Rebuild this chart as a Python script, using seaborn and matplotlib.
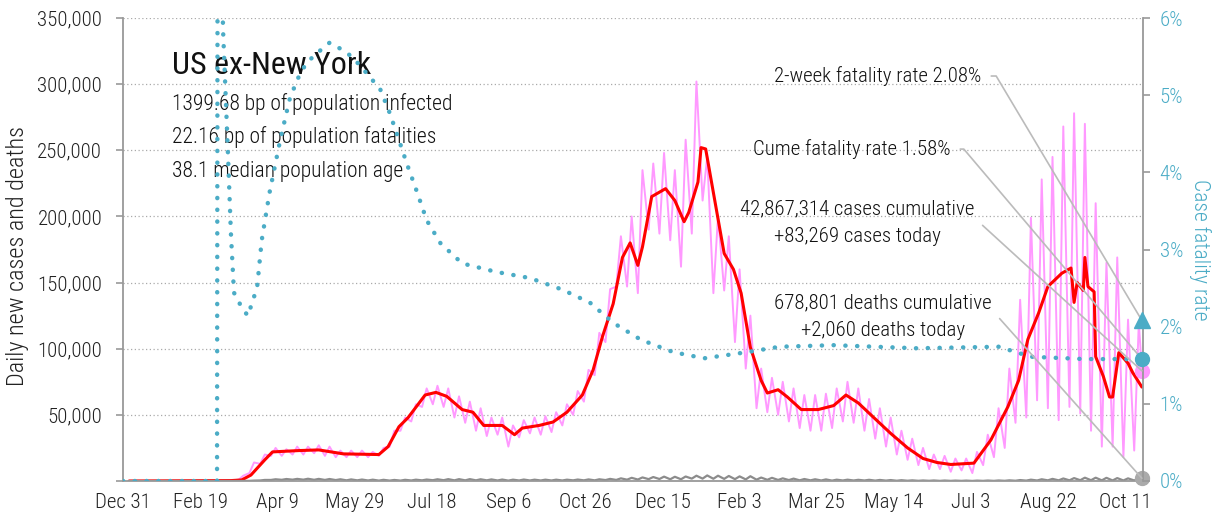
import pandas as pd
import matplotlib
matplotlib.use("Agg")
import matplotlib.pyplot as plt
import matplotlib.ticker as mticker
import seaborn as sns

# 7-day average of new cases (thousands)
avg_dates = ['2020-01-04', '2020-03-10', '2020-03-17', '2020-03-23', '2020-04-01', '2020-04-06',
             '2020-04-23', '2020-05-06', '2020-05-22', '2020-06-14', '2020-06-20', '2020-06-27',
             '2020-07-03', '2020-07-14', '2020-07-21', '2020-07-28', '2020-08-07', '2020-08-14',
             '2020-08-21', '2020-09-02', '2020-09-10', '2020-09-15', '2020-09-26', '2020-10-05',
             '2020-10-14', '2020-10-24', '2020-10-31', '2020-11-06', '2020-11-13', '2020-11-19',
             '2020-11-24', '2020-11-29', '2020-12-02', '2020-12-08', '2020-12-17', '2020-12-23',
             '2020-12-29', '2021-01-01', '2021-01-07', '2021-01-09', '2021-01-12', '2021-01-17',
             '2021-01-24', '2021-01-30', '2021-02-04', '2021-02-10', '2021-02-17', '2021-02-21',
             '2021-02-28', '2021-03-06', '2021-03-15', '2021-03-26', '2021-04-05', '2021-04-13',
             '2021-04-21', '2021-05-01', '2021-05-12', '2021-05-23', '2021-06-02', '2021-06-11',
             '2021-06-20', '2021-07-05', '2021-07-16', '2021-07-27', '2021-08-03', '2021-08-09',
             '2021-08-16', '2021-08-22', '2021-08-31', '2021-09-06', '2021-09-08', '2021-09-10',
             '2021-09-14', '2021-09-15', '2021-09-17', '2021-09-21', '2021-09-22', '2021-09-27',
             '2021-10-01', '2021-10-03', '2021-10-07', '2021-10-13', '2021-10-16', '2021-10-22']
avg_cases = [0, 0.3, 0.8, 4.5, 16, 22,
             23, 23.5, 20.5, 20, 26, 41,
             48, 65, 67, 64, 54, 52,
             42, 42, 35, 40, 42, 44.6,
             52, 65, 84, 109, 134, 169,
             180, 163, 177, 215, 221, 212,
             196, 203, 226, 252, 251, 218,
             172, 160, 142, 101, 76, 66.5,
             69, 63.5, 54, 54, 57, 65,
             59, 48, 36, 25, 17, 14,
             12.5, 13.5, 31, 56, 76, 107,
             127, 147, 157, 161, 135, 150,
             144, 169, 147, 143, 94, 79,
             63.5, 63.5, 97, 89, 82, 71]

# daily new cases (thousands): weekly low (Sunday) and high (Wednesday), from 2020-03-01
case_lo = [0, 0.2, 1, 6, 13,
           19, 19, 20, 20,
           21, 19, 18, 18, 18,
           18, 19, 26, 38,
           45, 56, 58, 56,
           48, 44, 38, 34, 35,
           26, 33, 36, 35,
           37, 42, 50, 60,
           80, 105, 147, 147, 142,
           190, 187, 182, 162,
           187, 212, 142, 144, 105,
           85, 55, 52, 50,
           45, 40, 38, 38,
           40, 45, 44, 38,
           32, 26, 20, 16, 12,
           9, 9, 7, 8,
           6, 12, 18, 25,
           44, 48, 61, 55, 46,
           56, 51, 38, 26,
           26, 18, 23]
case_hi = [0.1, 0.5, 4, 14, 20,
           25, 24, 26, 26,
           27, 26, 23, 23, 23,
           22, 25, 38, 48,
           58, 70, 72, 70,
           64, 60, 55, 48, 48,
           42, 46, 48, 49,
           52, 58, 68, 84,
           112, 145, 185, 200, 235,
           240, 248, 235, 258,
           302, 245, 200, 185, 160,
           125, 85, 78, 75,
           70, 65, 65, 66,
           70, 75, 70, 62,
           55, 48, 38, 32, 25,
           20, 19, 17, 17,
           22, 35, 55, 85,
           137, 199, 228, 245, 268,
           278, 270, 210, 165,
           169, 122, 120]

# daily deaths (thousands): weekly low and high
death_lo = [0, 0, 0.02, 0.1, 0.4,
            0.8, 0.9, 1.0, 1.0,
            0.9, 0.8, 0.7, 0.5, 0.5,
            0.4, 0.3, 0.3, 0.3,
            0.4, 0.5, 0.6, 0.6,
            0.5, 0.5, 0.5, 0.5, 0.4,
            0.3, 0.4, 0.4, 0.4,
            0.4, 0.4, 0.5, 0.5,
            0.5, 0.7, 0.8, 1.0, 1.1,
            1.4, 1.5, 1.3, 1.3,
            1.8, 1.8, 1.7, 1.6, 1.4,
            1.2, 1.0, 0.9, 0.8,
            0.7, 0.5, 0.5, 0.4,
            0.3, 0.4, 0.4, 0.4,
            0.3, 0.3, 0.2, 0.2, 0.15,
            0.15, 0.1, 0.1, 0.1,
            0.05, 0.1, 0.1, 0.15,
            0.2, 0.3, 0.4, 0.5, 0.5,
            0.5, 0.6, 0.6, 0.5,
            0.4, 0.4, 0.4]
death_hi = [0, 0.01, 0.05, 0.3, 0.8,
            1.3, 1.5, 1.6, 1.7,
            1.6, 1.5, 1.3, 1.2, 1.1,
            1.0, 0.9, 0.8, 0.9,
            1.0, 1.1, 1.3, 1.4,
            1.4, 1.4, 1.3, 1.2, 1.1,
            1.0, 1.1, 1.0, 1.0,
            1.0, 1.0, 1.1, 1.2,
            1.3, 1.6, 2.0, 2.4, 2.7,
            3.0, 3.3, 3.2, 3.4,
            4.0, 4.2, 4.0, 3.8, 3.5,
            3.6, 2.6, 2.4, 2.0,
            1.8, 1.5, 1.3, 1.2,
            1.0, 1.0, 0.9, 0.9,
            0.8, 0.7, 0.6, 0.5, 0.4,
            0.4, 0.35, 0.3, 0.3,
            0.3, 0.35, 0.4, 0.5,
            0.7, 1.0, 1.3, 1.6, 1.9,
            2.2, 2.5, 2.5, 2.4,
            2.2, 2.0, 1.9]

# cumulative case fatality rate (%)
cfr_dates = ['2019-12-31', '2020-03-01', '2020-03-02', '2020-03-03', '2020-03-04', '2020-03-05',
             '2020-03-08', '2020-03-10', '2020-03-12', '2020-03-17', '2020-03-21', '2020-03-27',
             '2020-03-30', '2020-04-04', '2020-04-11', '2020-04-17', '2020-04-22', '2020-04-28',
             '2020-05-07', '2020-05-13', '2020-05-22', '2020-05-28', '2020-06-08', '2020-06-15',
             '2020-06-21', '2020-06-27', '2020-07-02', '2020-07-09', '2020-07-15', '2020-07-24',
             '2020-08-07', '2020-08-29', '2020-09-20', '2020-10-11', '2020-10-29', '2020-11-13',
             '2020-12-01', '2020-12-22', '2021-01-11', '2021-02-08', '2021-03-01', '2021-04-05',
             '2021-05-29', '2021-07-21', '2021-08-11', '2021-09-15', '2021-10-22']
cfr_pct = [0, 0, 20, 9, 6.6, 5.8,
           4.29, 3.21, 2.44, 2.25, 2.14, 2.51,
           3.12, 3.73, 4.42, 4.94, 5.2, 5.42,
           5.58, 5.68, 5.58, 5.49, 5.24, 5.07,
           4.77, 4.42, 4.12, 3.73, 3.38, 3.08,
           2.82, 2.71, 2.63, 2.48, 2.31, 2.05,
           1.83, 1.67, 1.59, 1.67, 1.74, 1.76,
           1.72, 1.74, 1.61, 1.58, 1.58]

last_day = '2021-10-22'
cases_today = 83269
deaths_today = 2060
cume_cases = 42867314
cume_deaths = 678801
cfr_cume = 1.58
cfr_2wk = 2.08
title = 'US ex-New York'
stats = ['1399.68 bp of population infected',
         '22.16 bp of population fatalities',
         '38.1 median population age']

PINK, RED, GREY, TEAL, LEAD = '#FF99FF', '#FF0000', '#8C8C8C', '#4BACC6', '#BBBBBB'

# tables for seaborn
weeks = pd.date_range('2020-03-01', periods=len(case_lo), freq='7D')
mid = weeks + pd.Timedelta(days=3)
end = pd.Timestamp(last_day)
daily = pd.DataFrame({
    'date': list(weeks) + list(mid) + [pd.Timestamp('2020-01-04'), end],
    'cases': [v * 1000 for v in case_lo + case_hi] + [0, cases_today],
    'deaths': [v * 1000 for v in death_lo + death_hi] + [0, deaths_today],
}).sort_values('date')
avg = pd.DataFrame({'date': pd.to_datetime(avg_dates), 'cases': [v * 1000 for v in avg_cases]})
cfr = pd.DataFrame({'date': pd.to_datetime(cfr_dates), 'pct': cfr_pct})

sns.set_style('white')
plt.rcParams['font.family'] = ['Roboto Condensed', 'DejaVu Sans']
plt.rcParams['font.weight'] = 'light'

fig = plt.figure(figsize=(12.15, 5.2), dpi=100)
ax = fig.add_axes([123 / 1215, 39 / 520, 1020 / 1215, 463 / 520])
ax2 = ax.twinx()

sns.lineplot(data=daily, x='date', y='cases', ax=ax, color=PINK, lw=1.4, estimator=None)
sns.lineplot(data=avg, x='date', y='cases', ax=ax, color=RED, lw=2.2, estimator=None)
sns.lineplot(data=daily, x='date', y='deaths', ax=ax, color=GREY, lw=1.6, estimator=None)
sns.lineplot(data=cfr, x='date', y='pct', ax=ax2, color=TEAL, lw=3.2, estimator=None,
             linestyle=(0, (0.05, 2.6)), dash_capstyle='round')

# end markers
ax.plot([end], [cases_today], 'o', color=PINK, ms=10, clip_on=False, zorder=5)
ax.plot([end], [deaths_today], 'o', color='#AAAAAA', ms=10, clip_on=False, zorder=5)
ax2.plot([end], [cfr_2wk], '^', color=TEAL, ms=11, clip_on=False, zorder=5)
ax2.plot([end], [cfr_cume], 'o', color=TEAL, ms=10, clip_on=False, zorder=5)

# axes
ax.set_xlim(pd.Timestamp('2019-12-31'), end + pd.Timedelta(hours=17))
ax.set_ylim(0, 350000)
ax2.set_ylim(0, 6)
ticks = pd.date_range('2019-12-31', periods=14, freq='50D')
ax.set_xticks(ticks)
ax.set_xticklabels([f'{t:%b} {t.day}' for t in ticks])
ax.set_yticks(range(0, 350001, 50000))
ax.yaxis.set_major_formatter(mticker.FuncFormatter(lambda v, p: '' if v == 0 else f'{v:,.0f}'))
ax2.set_yticks(range(0, 7))
ax2.yaxis.set_major_formatter(mticker.FuncFormatter(lambda v, p: f'{v:.0f}%'))
ax.set_xlabel('')
ax.set_ylabel('')
ax2.set_ylabel('')
ax.grid(False)
ax2.grid(False)
ax.yaxis.grid(True, linestyle=(0, (1, 2)), color='#AAAAAA', lw=0.9)

for a in (ax, ax2):
    a.spines['top'].set_visible(False)
    for s in ('left', 'right', 'bottom'):
        a.spines[s].set_color('#999999')
        a.spines[s].set_linewidth(1.3)
ax.spines['right'].set_visible(False)
ax2.spines['left'].set_visible(False)
ax2.spines['bottom'].set_visible(False)

ax.tick_params(axis='x', direction='out', length=5, width=1.2, color='#999999',
               labelsize=15, labelcolor='#222222', pad=4)
ax.tick_params(axis='y', direction='out', length=5, width=1.2, color='#999999',
               labelsize=15, labelcolor='#222222', pad=10)
ax2.tick_params(axis='y', direction='out', length=5, width=1.2, color='#999999',
                labelsize=15, labelcolor=TEAL, pad=7)

fig.text(18 / 1215, 0.508, 'Daily new cases and deaths', rotation=90, ha='center', va='center',
         fontsize=17.5, color='#222222')
fig.text(1200 / 1215, 0.52, 'Case fatality rate', rotation=270, ha='center', va='center',
         fontsize=15.5, color=TEAL)

# title block
ax.text(0.048, 0.879, title, transform=ax.transAxes, fontsize=23, weight='normal',
        color='#111111', va='baseline')
for txt, yb in zip(stats, [0.8017, 0.730, 0.6566]):
    ax.text(0.048, yb, txt, transform=ax.transAxes, fontsize=15.5, color='#111111', va='baseline')

# callouts
def lead(angle, rel=(1, 0.5)):
    return dict(arrowstyle='-', color=LEAD, lw=1.2, shrinkA=5, shrinkB=0, relpos=rel,
                connectionstyle=f'angle,angleA=0,angleB={angle},rad=0')

ax2.annotate(f'2-week fatality rate {cfr_2wk:.2f}%', xy=(end, cfr_2wk), xytext=(0.8412, 0.8618),
             textcoords='axes fraction', ha='right', va='baseline', fontsize=15, color='#111111',
             arrowprops=lead(-59.2), annotation_clip=False)
ax2.annotate(f'Cume fatality rate {cfr_cume:.2f}%', xy=(end, cfr_cume), xytext=(0.8108, 0.704),
             textcoords='axes fraction', ha='right', va='baseline', fontsize=15, color='#111111',
             arrowprops=lead(-49.7), annotation_clip=False)
ax2.annotate(f'{cume_cases:,} cases cumulative\n+{cases_today:,} cases today',
             xy=(end, cases_today / 350000 * 6), xytext=(0.7196, 0.516),
             textcoords='axes fraction', ha='center', va='baseline', multialignment='center',
             linespacing=1.55, fontsize=15, color='#111111',
             arrowprops=lead(-42.4, (1, 0.62)), annotation_clip=False)
ax2.annotate(f'{cume_deaths:,} deaths cumulative\n+{deaths_today:,} deaths today',
             xy=(end, deaths_today / 350000 * 6), xytext=(0.745, 0.313),
             textcoords='axes fraction', ha='center', va='baseline', multialignment='center',
             linespacing=1.55, fontsize=15, color='#111111',
             arrowprops=lead(-48.3, (1, 0.62)), annotation_clip=False)

fig.savefig('out.png', dpi=100)
